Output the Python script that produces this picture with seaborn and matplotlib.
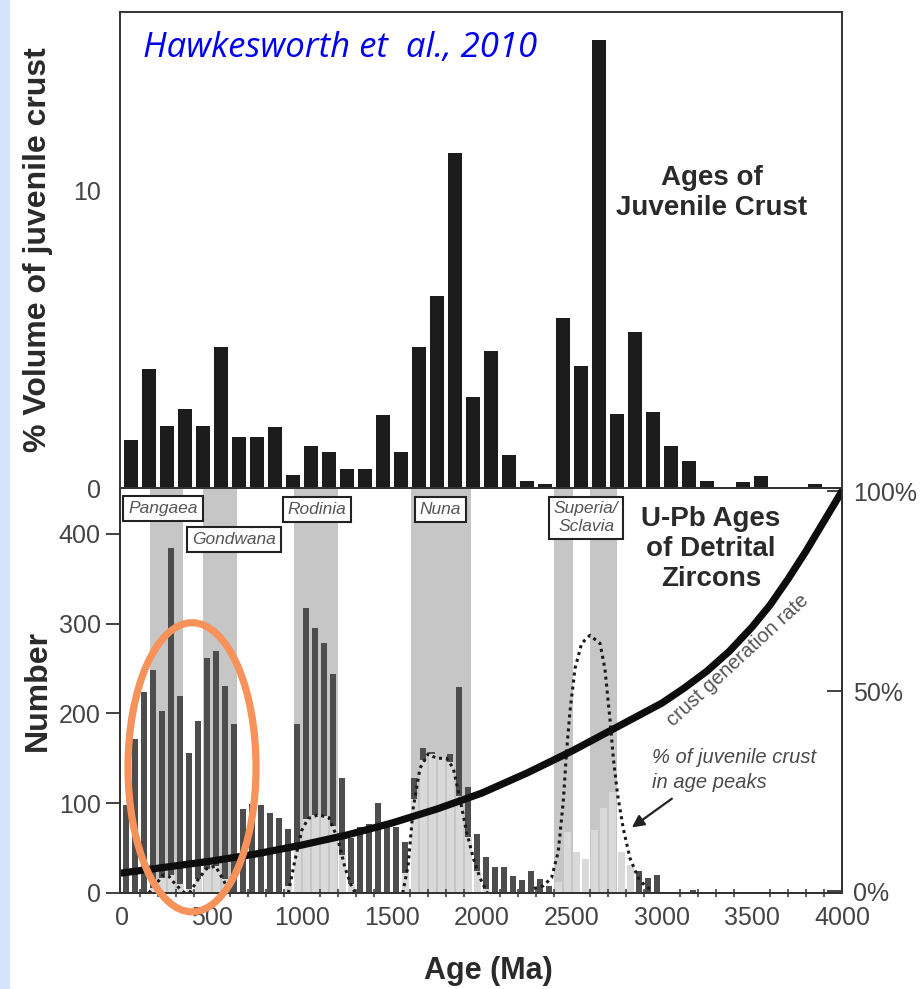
import numpy as np
import pandas as pd
import matplotlib
matplotlib.use("Agg")
import matplotlib.pyplot as plt
from matplotlib.patches import Ellipse, Rectangle
from matplotlib.ticker import MultipleLocator
import seaborn as sns

# ---------------- data ----------------
# Top panel: % volume of juvenile crust (100 Ma bins, bin centres in Ma)
juv_age = [50, 150, 250, 350, 450, 550, 650, 750, 850, 950,
           1050, 1150, 1250, 1350, 1450, 1550, 1650, 1750, 1850, 1950,
           2050, 2150, 2250, 2350, 2450, 2550, 2650, 2750, 2850, 2950,
           3050, 3150, 3250, 3350, 3450, 3550, 3650, 3750, 3850, 3950]
juv_pct = [1.6, 4.0, 2.1, 2.65, 2.1, 4.75, 1.7, 1.7, 2.05, 0.45,
           1.4, 1.2, 0.65, 0.65, 2.45, 1.2, 4.75, 6.45, 11.25, 3.05,
           4.6, 1.1, 0.25, 0.15, 5.7, 4.1, 15.05, 2.5, 5.25, 2.55,
           1.4, 0.9, 0.25, 0.0, 0.2, 0.4, 0.0, 0.0, 0.15, 0.0]

# Bottom panel: U-Pb ages of detrital zircons (50 Ma bins, bin centres in Ma)
zr_age = [25, 75, 125, 175, 225, 275, 325, 375, 425, 475,
          525, 575, 625, 675, 725, 775, 825, 875, 925, 975,
          1025, 1075, 1125, 1175, 1225, 1275, 1325, 1375, 1425, 1475,
          1525, 1575, 1625, 1675, 1725, 1775, 1825, 1875, 1925, 1975,
          2025, 2075, 2125, 2175, 2225, 2275, 2325, 2375, 2425, 2475,
          2525, 2575, 2625, 2675, 2725, 2775, 2825, 2875, 2925, 2975,
          3025, 3075, 3125, 3175, 3225, 3275, 3325, 3375, 3425, 3475,
          3525, 3575, 3625, 3675, 3725, 3775, 3825, 3875, 3925, 3975]
zr_count = [98, 172, 224, 248, 203, 384, 219, 156, 191, 262,
            270, 231, 188, 94, 99, 98, 89, 83, 71, 188,
            317, 295, 278, 244, 128, 61, 74, 77, 100, 74,
            74, 57, 128, 162, 157, 150, 155, 229, 118, 66,
            40, 29, 29, 19, 15, 25, 16, 8, 0, 0,
            0, 0, 0, 0, 0, 0, 0, 24, 17, 20,
            0, 0, 0, 3, 0, 0, 0, 0, 0, 0,
            0, 0, 0, 0, 0, 0, 0, 0, 0, 0]
# juvenile-crust portion in the age peaks (light bars)
peak_count = [0, 0, 0, 6, 17, 20, 10, 4, 16, 27,
              30, 16, 0, 0, 0, 0, 0, 0, 8, 50,
              82, 87, 86, 75, 42, 10, 0, 0, 0, 0,
              0, 22, 105, 148, 155, 150, 146, 108, 62, 25,
              4, 0, 0, 0, 0, 0, 0, 0, 12, 68,
              46, 38, 70, 95, 113, 46, 31, 0, 0, 0,
              0, 0, 0, 0, 0, 0, 0, 0, 0, 0,
              0, 0, 0, 0, 0, 0, 0, 0, 0, 0]

# dotted envelopes: % of juvenile crust in age peaks
pangaea_age = [150, 190, 230, 260, 300, 350]
pangaea_val = [0, 10, 20, 19, 9, 0]
gondwana_age = [375, 420, 470, 520, 560, 600]
gondwana_val = [0, 14, 27, 30, 16, 0]
rodinia_age = [925, 960, 1000, 1035, 1090, 1150, 1200, 1240, 1280, 1300]
rodinia_val = [0, 35, 70, 83, 87, 84, 60, 28, 5, 0]
nuna_age = [1560, 1590, 1618, 1656, 1702, 1748, 1804, 1841, 1878, 1915, 1952, 1989, 2030]
nuna_val = [0, 30, 94, 139, 155, 150, 150, 139, 105, 68, 39, 17, 0]
superia_age = [2290, 2341, 2387, 2424, 2452, 2470, 2489, 2517, 2554, 2600,
               2656, 2683, 2711, 2730, 2754, 2785, 2822, 2868, 2906, 2950]
superia_val = [5, 8, 17, 46, 102, 157, 202, 250, 278, 287,
               278, 250, 194, 150, 109, 72, 39, 17, 8, 2]

# crust generation rate (right axis, %)
crust_age = [0, 250, 500, 750, 1000, 1250, 1500, 1750, 2000, 2250, 2500, 2750,
             3000, 3125, 3250, 3375, 3500, 3600, 3700, 3800, 3900, 4000]
crust_pct = [4.5, 6, 7.5, 9.3, 11.5, 14, 17, 20.5, 24.5, 29.5, 35, 41,
             47, 50.8, 55, 60, 66, 71.5, 78, 85, 92.5, 100]

# supercontinent windows (Ma)
band_names = ["Pangaea", "Gondwana", "Rodinia", "Nuna", "Superia/\nSclavia"]
band_ranges = [(157, 340), (451, 640), (957, 1201), (1607, 1940), (2401, 2507), (2601, 2751)]

# ---------------- style ----------------
sns.set_style("white")
plt.rcParams['font.family'] = ['Liberation Sans', 'DejaVu Sans']
TXT = '#2a2a2a'
GRAY_TXT = '#4a4a4a'
TICK_FS = 18

fig = plt.figure(figsize=(9.22, 9.89), dpi=100)
fig.patch.set_facecolor('white')
fig.add_artist(Rectangle((0, 0), 10 / 922, 1, transform=fig.transFigure,
                         facecolor='#d5e4fa', edgecolor='none', zorder=-1))

L, W = 120 / 922, 722 / 922
ax_top = fig.add_axes([L, 1 - 488 / 989, W, 476 / 989])
ax_bot = fig.add_axes([L, 1 - 893 / 989, W, 405 / 989])

juv_df = pd.DataFrame({'age': juv_age, 'pct': juv_pct})
zr_df = pd.DataFrame({'age': zr_age, 'n': zr_count, 'peak': peak_count})

# ---------------- top panel ----------------
sns.barplot(data=juv_df, x='age', y='pct', native_scale=True, width=0.78,
            color='#1c1c1c', saturation=1, errorbar=None, linewidth=0, ax=ax_top)
ax_top.set_xlim(-10, 4000)
ax_top.set_ylim(0, 16)
ax_top.set_yticks([0, 10])
ax_top.set_yticklabels(['0', '10'])
ax_top.set_xticks([])
ax_top.set_xlabel('')
ax_top.set_ylabel('% Volume of juvenile crust', fontsize=23, fontweight='bold', color=TXT)
ax_top.yaxis.set_label_coords(-0.093, 0.5)
ax_top.tick_params(axis='y', direction='out', length=10, width=1.3, colors='#333',
                   labelsize=TICK_FS, labelcolor='#444', pad=4)
for s in ax_top.spines.values():
    s.set_visible(True); s.set_color('#333'); s.set_linewidth(1.4)

fig.text(712 / 922, 1 - 193 / 989, 'Ages of\nJuvenile Crust', ha='center', va='center',
         fontsize=20, fontweight='bold', color=TXT, linespacing=1.2)
fig.text(143 / 922, 1 - 48 / 989, 'Hawkesworth et  al., 2010', ha='left', va='center',
         fontsize=25, style='italic', color='#0000ee', family=['Open Sans', 'DejaVu Sans'])

# ---------------- bottom panel ----------------
for a0, a1 in band_ranges:
    ax_bot.axvspan(a0, a1, color='#c6c6c6', lw=0, zorder=0)

sns.barplot(data=zr_df, x='age', y='n', native_scale=True, width=0.66,
            color='#4d4d4d', saturation=1, errorbar=None, linewidth=0, ax=ax_bot, zorder=2)
sns.barplot(data=zr_df, x='age', y='peak', native_scale=True, width=0.8,
            color='#d9d9d9', saturation=1, errorbar=None, linewidth=0, ax=ax_bot, zorder=3)

for ages, vals in [(pangaea_age, pangaea_val), (gondwana_age, gondwana_val),
                   (rodinia_age, rodinia_val), (nuna_age, nuna_val),
                   (superia_age, superia_val)]:
    sns.lineplot(x=ages, y=vals, ax=ax_bot, color='#1a1a1a', lw=2.2,
                 linestyle=(0, (1, 1.3)), sort=False, zorder=4)

ax_bot.set_xlim(-10, 4000)
ax_bot.set_ylim(0, 451)
ax_bot.set_yticks([0, 100, 200, 300, 400])
ax_bot.set_yticklabels(['0', '100', '200', '300', '400'])
ax_bot.set_xticks(np.arange(0, 4001, 500))
ax_bot.set_xticklabels([str(v) for v in range(0, 4001, 500)])
ax_bot.xaxis.set_minor_locator(MultipleLocator(100))
ax_bot.tick_params(axis='y', direction='out', length=10, width=1.3, colors='#333',
                   labelsize=TICK_FS, labelcolor='#444', pad=4, right=False)
ax_bot.tick_params(axis='x', which='major', direction='inout', length=11, width=1.3,
                   colors='#333', labelsize=TICK_FS, labelcolor='#444', pad=4)
ax_bot.tick_params(axis='x', which='minor', direction='inout', length=6, width=1.1,
                   colors='#333', bottom=True)
ax_bot.set_ylabel('Number', fontsize=23, fontweight='bold', color=TXT)
ax_bot.yaxis.set_label_coords(-0.093, 0.5)
ax_bot.set_xlabel('Age (Ma)', fontsize=22, fontweight='bold', color=TXT)
ax_bot.xaxis.set_label_coords(0.51, -0.155)
for s in ax_bot.spines.values():
    s.set_visible(True); s.set_color('#333'); s.set_linewidth(1.4)

# supercontinent labels in boxes
box_pos = [(229, 428), (623, 394), (1084, 427), (1768, 427), (2579, 418)]
for name, (bx, by) in zip(band_names, box_pos):
    ax_bot.text(bx, by, name, ha='center', va='center', fontsize=12.5, style='italic',
                color='#555', linespacing=1.2, zorder=6,
                bbox=dict(boxstyle='square,pad=0.28', facecolor='white',
                          edgecolor='#222', linewidth=1.5))

fig.text(711 / 922, 1 - 549 / 989, 'U-Pb Ages\nof Detrital\nZircons', ha='center',
         va='center', fontsize=20, fontweight='bold', color=TXT, linespacing=1.22)

ax_bot.text(2946, 137, '% of juvenile crust\nin age peaks', ha='left', va='center',
            fontsize=14.5, style='italic', color=GRAY_TXT, linespacing=1.45, zorder=6)
ax_bot.annotate('', xy=(2833, 73), xytext=(3055, 105),
                arrowprops=dict(arrowstyle='-|>', lw=1.6, color='#222',
                                mutation_scale=18, shrinkA=0, shrinkB=0), zorder=6)

# right axis with crust generation curve
ax2 = ax_bot.twinx()
sns.lineplot(x=crust_age, y=crust_pct, ax=ax2, color='#0d0d0d', lw=5.2, sort=False)
ax2.set_ylim(-0.5, 100.8)
ax2.set_yticks([0, 50, 100])
ax2.set_yticklabels(['0%', '50%', '100%'])
ax2.tick_params(axis='y', direction='in', length=11, width=1.3, colors='#333',
                labelsize=TICK_FS, labelcolor='#444', pad=8)
ax2.set_ylabel('')
ax2.set_xlim(-10, 4000)
for s in ax2.spines.values():
    s.set_color('#333'); s.set_linewidth(1.4)

ax2.text(3420, 57.8, 'crust generation rate', rotation=42.6, ha='center', va='center',
         rotation_mode='anchor', fontsize=14.5, color='#555')

# highlight ellipse
fig.add_artist(Ellipse((390, 140), width=711, height=322, transform=ax_bot.transData,
                       fill=False, edgecolor='#f7925a', linewidth=5.2, zorder=10))

fig.savefig('out.png', dpi=100)
